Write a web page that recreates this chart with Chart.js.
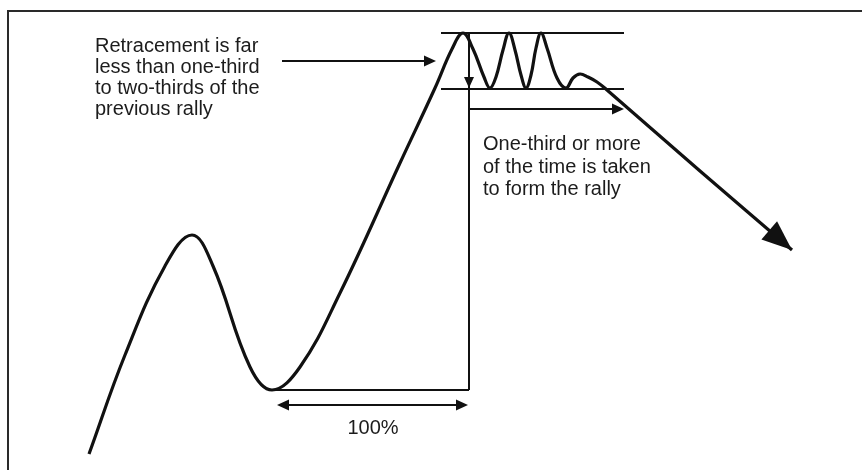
<!DOCTYPE html>
<html>
<head>
<meta charset="utf-8">
<script src="https://cdn.jsdelivr.net/npm/chart.js@4.4.1/dist/chart.umd.min.js"></script>
<style>
  html, body { margin: 0; padding: 0; background: #fff; }
  #wrap { position: relative; width: 862px; height: 470px; overflow: hidden; }
  #frame { position: absolute; left: 7px; top: 10px; width: 900px; height: 500px; border: 2px solid #2a2a2a; box-sizing: border-box; }
  #chart { position: absolute; left: 0; top: 0; }
</style>
</head>
<body>
<div id="wrap">
  <div id="frame"></div>
  <canvas id="chart" width="862" height="470"></canvas>
</div>
<script>
// ---- Price path (time, price) ----
const timeX = [89, 125, 165, 192, 213, 250, 272, 300, 340, 400, 435, 452, 463,
               473, 484, 490, 496, 503, 509, 515, 521, 526, 531, 536, 541, 547, 557, 566,
               573, 580, 588, 597, 607, 700, 792];
const priceY = [16, 115, 204, 235, 204, 103, 80, 103, 177, 307, 382, 421, 437,
                421, 393, 382, 393, 420, 437, 420, 395, 382, 395, 422, 437, 422, 392, 382,
                392, 396, 393, 388, 380, 299, 220];

// ---- Reference levels ----
const rallyLow = 80;        // trough before the rally
const rallyHigh = 437;      // top of the rally / range
const rangeLow = 381;       // bottom of the congestion range
const rangeX = [441, 624];  // extent of the range lines

// ---- Labels ----
const noteLeft = ["Retracement is far", "less than one-third", "to two-thirds of the", "previous rally"];
const noteRight = ["One-third or more", "of the time is taken", "to form the rally"];
const noteBottom = "100%";

const INK = "#111";
const TXT = "#1c1c1c";

const points = timeX.map((x, i) => ({ x: x, y: priceY[i] }));

function arrowHead(ctx, x0, y0, x1, y1, len, half) {
  const a = Math.atan2(y1 - y0, x1 - x0);
  ctx.beginPath();
  ctx.moveTo(x1, y1);
  ctx.lineTo(x1 - len * Math.cos(a) + half * Math.sin(a), y1 - len * Math.sin(a) - half * Math.cos(a));
  ctx.lineTo(x1 - len * Math.cos(a) - half * Math.sin(a), y1 - len * Math.sin(a) + half * Math.cos(a));
  ctx.closePath();
  ctx.fill();
}

const annotations = {
  id: "annotations",
  afterDatasetsDraw(chart) {
    const ctx = chart.ctx, sx = chart.scales.x, sy = chart.scales.y;
    const X = (v) => sx.getPixelForValue(v), Y = (v) => sy.getPixelForValue(v);
    const peakX = 469;
    ctx.save();
    ctx.strokeStyle = INK; ctx.fillStyle = INK; ctx.lineWidth = 2;

    function seg(x0, y0, x1, y1) {
      ctx.beginPath(); ctx.moveTo(X(x0), Y(y0)); ctx.lineTo(X(x1), Y(y1)); ctx.stroke();
    }
    // range lines
    seg(rangeX[0], rallyHigh, rangeX[1], rallyHigh);
    seg(rangeX[0], rangeLow, rangeX[1], rangeLow);
    // vertical from top to rally low, with retracement arrow
    seg(peakX, rallyHigh, peakX, rallyLow);
    arrowHead(ctx, X(peakX), Y(rallyHigh), X(peakX), Y(rangeLow + 1), 11, 5);
    // base line at rally low
    seg(272, rallyLow, peakX, rallyLow);
    // 100% double arrow
    seg(285, 65, 460, 65);
    arrowHead(ctx, X(400), Y(65), X(277), Y(65), 12, 5.5);
    arrowHead(ctx, X(300), Y(65), X(468), Y(65), 12, 5.5);
    // time arrow
    seg(peakX, 361, 615, 361);
    arrowHead(ctx, X(peakX), Y(361), X(624), Y(361), 12, 5.5);
    // pointer from left note
    seg(282, 409, 428, 409);
    arrowHead(ctx, X(282), Y(409), X(436), Y(409), 12, 5.5);

    // big arrow head at end of price path
    const n = timeX.length;
    arrowHead(ctx, X(timeX[n - 2]), Y(priceY[n - 2]), X(timeX[n - 1]), Y(priceY[n - 1]), 30, 12);

    // texts
    ctx.fillStyle = TXT;
    ctx.font = '20px "Liberation Sans", Arial, sans-serif';
    ctx.textBaseline = "alphabetic";
    ctx.textAlign = "left";
    noteLeft.forEach((t, i) => ctx.fillText(t, X(95), Y(418 - i * 21)));
    noteRight.forEach((t, i) => ctx.fillText(t, X(483), Y(320 - i * 22.5)));
    ctx.textAlign = "center";
    ctx.fillText(noteBottom, X(373), Y(36));
    ctx.restore();
  },
};

new Chart(document.getElementById("chart").getContext("2d"), {
  type: "line",
  data: {
    datasets: [{
      data: points,
      borderColor: INK,
      borderWidth: 3.2,
      pointRadius: 0,
      tension: 0.4,
      fill: false,
      clip: false,
    }],
  },
  options: {
    responsive: false,
    animation: false,
    layout: { padding: 0 },
    plugins: { legend: { display: false }, tooltip: { enabled: false } },
    scales: {
      x: { type: "linear", min: 0, max: 862, display: false },
      y: { type: "linear", min: 0, max: 470, display: false },
    },
  },
  plugins: [annotations],
});
</script>
</body>
</html>
